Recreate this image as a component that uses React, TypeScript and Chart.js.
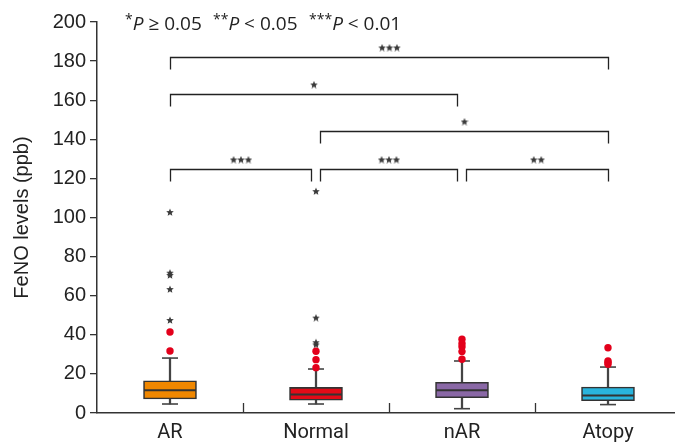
import React, { useEffect, useRef } from 'react';
import { Chart, registerables } from 'chart.js';

Chart.register(...registerables);

const categories = ['AR', 'Normal', 'nAR', 'Atopy'];
const boxColors = ['#F08700', '#E30A17', '#8A68A6', '#29B4DD'];
const q1 = [7.2, 6.5, 7.8, 6.3];
const q3 = [16.5, 13.1, 15.7, 13.3];
const medians = [11.6, 9.4, 11.6, 9.0];
const whiskerLow = [4.6, 4.6, 2.2, 4.3];
const whiskerHigh = [28.1, 22.5, 26.6, 23.5];
const outlierDots = [
  [31.7, 41.4],
  [23.2, 27.3, 31.6],
  [27.5, 31.4, 33.9, 35.6, 37.7],
  [24.9, 25.8, 26.6, 33.4],
];
const extremeStars = [
  [47.6, 63.4, 70.6, 71.8, 102.8],
  [35.1, 36.2, 48.8, 113.5],
  [],
  [],
];
const yTicksMax = 200;
const yTickStep = 20;
const bracketFrom = [0, 0, 1, 0, 1, 2];
const bracketTo = [3, 2, 3, 1, 2, 3];
const bracketLevel = [182, 163, 144, 125, 125, 125];
const bracketLabel = ['***', '*', '*', '***', '***', '**'];
const legendStars = ['*', '**', '***'];
const legendOps = [' \u2265 0.05', ' < 0.05', ' < 0.01'];

function makeStar(size: number, color: string): HTMLCanvasElement {
  const c = document.createElement('canvas');
  c.width = size;
  c.height = size;
  const ctx = c.getContext('2d')!;
  const cx = size / 2;
  const cy = size / 2 + 0.4;
  const R = size / 2;
  const r = R * 0.45;
  ctx.beginPath();
  for (let i = 0; i < 10; i++) {
    const rad = (Math.PI / 5) * i - Math.PI / 2;
    const rr = i % 2 === 0 ? R : r;
    const px = cx + Math.cos(rad) * rr;
    const py = cy + Math.sin(rad) * rr;
    if (i === 0) ctx.moveTo(px, py);
    else ctx.lineTo(px, py);
  }
  ctx.closePath();
  ctx.fillStyle = color;
  ctx.fill();
  return c;
}

export default function App() {
  const ref = useRef<HTMLCanvasElement | null>(null);

  useEffect(() => {
    if (!ref.current) return;
    const centers = categories.map((_, i) => i + 0.5);
    const starImg = makeStar(8, '#3a3a3a');

    const overlay = {
      id: 'overlay',
      afterDraw(chart: any) {
        const ctx = chart.ctx;
        const xs = chart.scales.x;
        const ys = chart.scales.y;
        ctx.save();
        // inner category boundary ticks
        ctx.strokeStyle = '#333';
        ctx.lineWidth = 1.3;
        for (let i = 1; i < categories.length; i++) {
          const px = Math.round(xs.getPixelForValue(i)) + 0.5;
          ctx.beginPath();
          ctx.moveTo(px, ys.bottom);
          ctx.lineTo(px, ys.bottom - 10);
          ctx.stroke();
        }
        // brackets
        ctx.strokeStyle = '#222';
        ctx.lineWidth = 1.3;
        for (let k = 0; k < bracketFrom.length; k++) {
          const a = bracketFrom[k];
          const b = bracketTo[k];
          const x1 = Math.round(xs.getPixelForValue(centers[a] + (a > 0 ? 0.025 : 0))) + 0.5;
          const x2 = Math.round(xs.getPixelForValue(centers[b] - (b < categories.length - 1 ? 0.035 : 0))) + 0.5;
          const py = Math.round(ys.getPixelForValue(bracketLevel[k])) + 0.5;
          ctx.beginPath();
          ctx.moveTo(x1, py + 12);
          ctx.lineTo(x1, py);
          ctx.lineTo(x2, py);
          ctx.lineTo(x2, py + 12);
          ctx.stroke();
          const n = bracketLabel[k].length;
          const mid = (x1 + x2) / 2;
          const sp = 7.4;
          for (let s = 0; s < n; s++) {
            const sx = mid + (s - (n - 1) / 2) * sp;
            ctx.drawImage(starImg, sx - 4, py - 14);
          }
        }
        // legend text
        const starts = [125, 213, 309];
        ctx.fillStyle = '#222';
        ctx.textBaseline = 'alphabetic';
        ctx.textAlign = 'left';
        for (let g = 0; g < legendStars.length; g++) {
          let x = starts[g];
          ctx.font = '14px "Open Sans"';
          ctx.fillText(legendStars[g], x, 24);
          x += ctx.measureText(legendStars[g]).width;
          ctx.font = 'italic 19px "Open Sans"';
          ctx.fillText('P', x, 30);
          x += ctx.measureText('P').width;
          ctx.font = '19px "Open Sans"';
          ctx.fillText(legendOps[g], x, 30);
        }
        ctx.restore();
      },
    };

    const chart = new Chart(ref.current, {
      type: 'bar',
      data: {
        datasets: [
          {
            type: 'line',
            label: 'dots',
            data: outlierDots.flatMap((arr, i) => arr.map((v) => ({ x: centers[i], y: v }))),
            showLine: false,
            pointRadius: 3.7,
            pointBackgroundColor: '#E3001B',
            pointBorderWidth: 0,
            order: 0,
          } as any,
          {
            type: 'line',
            label: 'stars',
            data: extremeStars.flatMap((arr, i) => arr.map((v) => ({ x: centers[i], y: v }))),
            showLine: false,
            pointStyle: starImg,
            pointRadius: 4,
            order: 0,
          } as any,
          {
            type: 'line',
            label: 'median',
            data: medians.map((v, i) => ({ x: centers[i], y: v })),
            showLine: false,
            pointStyle: 'line',
            pointRadius: 26,
            pointBorderColor: '#333',
            pointBorderWidth: 2,
            order: 1,
          } as any,
          {
            type: 'line',
            label: 'caps',
            data: [
              ...whiskerHigh.map((v, i) => ({ x: centers[i], y: v })),
              ...whiskerLow.map((v, i) => ({ x: centers[i], y: v })),
            ],
            showLine: false,
            pointStyle: 'line',
            pointRadius: 8,
            pointBorderColor: '#444',
            pointBorderWidth: 1.6,
            order: 1,
          } as any,
          {
            type: 'bar',
            label: 'box',
            data: q1.map((v, i) => ({ x: centers[i], y: [v, q3[i]] })),
            backgroundColor: boxColors,
            borderColor: '#333',
            borderWidth: 1.6,
            borderSkipped: false,
            barThickness: 53,
            grouped: false,
            order: 2,
          } as any,
          {
            type: 'bar',
            label: 'whiskerUp',
            data: q3.map((v, i) => ({ x: centers[i], y: [v, whiskerHigh[i]] })),
            backgroundColor: '#444',
            borderWidth: 0,
            barThickness: 1.6,
            grouped: false,
            order: 3,
          } as any,
          {
            type: 'bar',
            label: 'whiskerDown',
            data: q1.map((v, i) => ({ x: centers[i], y: [whiskerLow[i], v] })),
            backgroundColor: '#444',
            borderWidth: 0,
            barThickness: 1.6,
            grouped: false,
            order: 3,
          } as any,
        ],
      },
      options: {
        animation: false,
        responsive: true,
        maintainAspectRatio: false,
        layout: { autoPadding: false, padding: { top: 22, left: 0, right: 0, bottom: 0 } },
        plugins: {
          legend: { display: false },
          tooltip: { enabled: false },
        },
        events: [],
        scales: {
          x: {
            type: 'linear',
            offset: false,
            min: 0,
            max: 578 / 146,
            afterBuildTicks(scale: any) {
              scale.ticks = centers.map((v) => ({ value: v }));
            },
            afterFit(scale: any) {
              scale.height = 33;
              scale.paddingLeft = 0;
              scale.paddingRight = 0;
            },
            ticks: {
              autoSkip: false,
              maxRotation: 0,
              padding: 8,
              color: '#222',
              font: { family: 'Roboto', size: 20 },
              callback: (_v: any, idx: number) => categories[idx],
            },
            grid: { display: false, drawTicks: false, offset: false },
            border: { display: true, color: '#333', width: 1.5 },
          },
          y: {
            min: 0,
            max: yTicksMax,
            afterFit(scale: any) {
              scale.width = 97;
              scale.paddingTop = 0;
              scale.paddingBottom = 0;
            },
            ticks: {
              stepSize: yTickStep,
              padding: 4,
              color: '#222',
              font: { family: 'Liberation Sans', size: 20 },
            },
            grid: {
              drawOnChartArea: false,
              drawTicks: true,
              tickLength: 7,
              color: '#333',
              lineWidth: 1.3,
            },
            border: { display: true, color: '#333', width: 1.5 },
            title: {
              display: true,
              text: 'FeNO levels (ppb)',
              color: '#222',
              font: { family: 'Liberation Sans', size: 20, lineHeight: 1.2 },
              padding: { top: 10, bottom: 0 },
            },
          },
        },
      } as any,
      plugins: [overlay],
    });
    return () => chart.destroy();
  }, []);

  return (
    <div style={{ position: 'absolute', left: 0, top: 0, width: 675, height: 446, background: '#fff' }}>
      <canvas ref={ref} />
    </div>
  );
}
